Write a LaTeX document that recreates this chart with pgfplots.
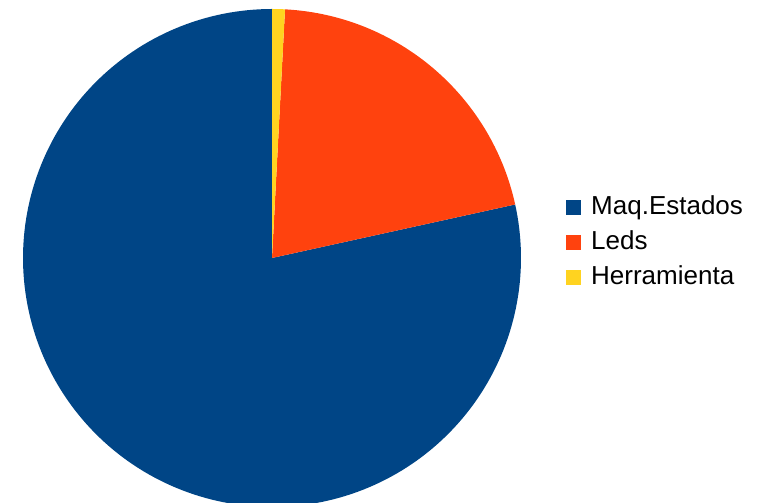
\documentclass[border=0pt]{standalone}
\usepackage{pgfplots}
\usepackage{pgfplotstable}
\pgfplotsset{compat=1.18}
\usepackage{fontspec}
\setmainfont{Liberation Sans}
\definecolor{cblue}{HTML}{004586}
\definecolor{corange}{HTML}{FF420E}
\definecolor{cyellow}{HTML}{FFD320}
\pgfplotstableread{
label value
Maq.Estados 78.45
Leds 20.72
Herramienta 0.83
}\piedata
\pgfplotstablegetelem{0}{value}\of\piedata \let\va\pgfplotsretval
\pgfplotstablegetelem{1}{value}\of\piedata \let\vb\pgfplotsretval
\pgfplotstablegetelem{2}{value}\of\piedata \let\vc\pgfplotsretval
\pgfmathsetmacro{\tot}{\va+\vb+\vc}
\pgfmathsetmacro{\aA}{90}
\pgfmathsetmacro{\aB}{\aA+3.6*(\va/\tot)*100}
\pgfmathsetmacro{\aC}{\aB+3.6*(\vb/\tot)*100}
\pgfmathsetmacro{\aD}{\aC+3.6*(\vc/\tot)*100}
\def\cx{272}\def\cy{245}\def\rr{249}
\begin{document}
\begin{tikzpicture}
\useasboundingbox (0,0) rectangle (764pt,503pt);
\begin{axis}[
  width=764pt, height=503pt, scale only axis,
  xmin=0, xmax=764, ymin=0, ymax=503,
  hide axis, clip=true,
  legend image code/.code={\path[#1,draw=none] (0pt,-7.5pt) rectangle (15pt,7.5pt);},
  legend style={at={(axis cs:566,260)}, anchor=west, draw=none, fill=none,
    font=\fontsize{26}{31}\selectfont, inner sep=0pt,
    nodes={inner sep=0pt, text height=19pt, text depth=5pt},
    row sep=11pt, column sep=10pt, cells={anchor=west}},
]
\addplot[fill=cblue, draw=none, domain=\aA:\aB, samples=200]
  ({\cx+\rr*cos(x)},{\cy+\rr*sin(x)}) -- (axis cs:\cx,\cy) -- cycle;
\addlegendentry{Maq.Estados}
\addplot[fill=corange, draw=none, domain=\aB:\aC, samples=80]
  ({\cx+\rr*cos(x)},{\cy+\rr*sin(x)}) -- (axis cs:\cx,\cy) -- cycle;
\addlegendentry{Leds}
\addplot[fill=cyellow, draw=none, domain=\aC:\aD, samples=10]
  ({\cx+\rr*cos(x)},{\cy+\rr*sin(x)}) -- (axis cs:\cx,\cy) -- cycle;
\addlegendentry{Herramienta}
\end{axis}
\end{tikzpicture}
\end{document}
